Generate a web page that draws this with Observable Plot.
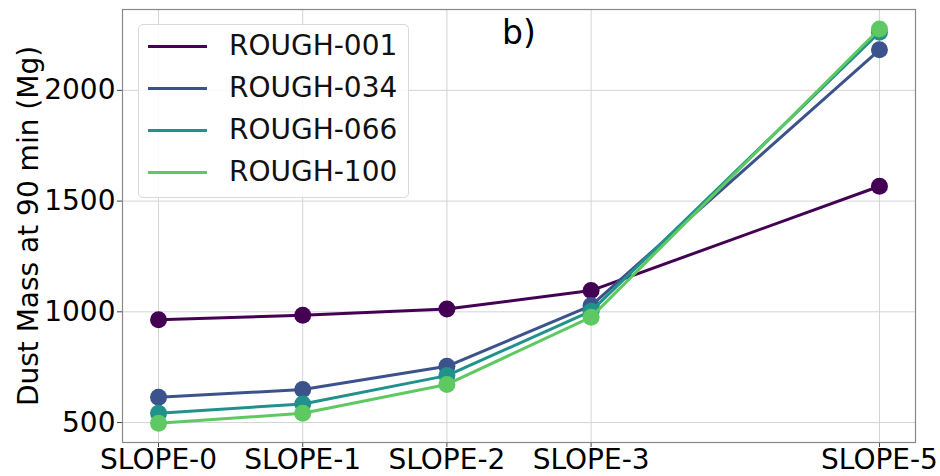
<!DOCTYPE html>
<html>
<head>
<meta charset="utf-8">
<script src="https://cdn.jsdelivr.net/npm/d3@7"></script>
<script src="https://cdn.jsdelivr.net/npm/@observablehq/plot@0.6"></script>
<style>
  body { margin: 0; background: #fff; font-family: "DejaVu Sans", sans-serif; }
  #wrap { position: relative; width: 940px; height: 476px; }
  #legend { position: absolute; left: 138px; top: 24px; width: 271px; height: 174px;
    border: 1px solid #d9d9d9; border-radius: 5px; background: rgba(255,255,255,0.85); box-sizing: border-box; }
  .row { position: absolute; left: 0; height: 30px; }
  .sw { position: absolute; left: 9px; width: 59px; height: 3px; }
  .lab { position: absolute; left: 90px; font-size: 28px; white-space: nowrap; color: #111; line-height: 30px; }
</style>
</head>
<body>
<div id="wrap"></div>
<script>
const slopeValues = [0, 1, 2, 3, 5];
const slopeLabels = ["SLOPE-0", "SLOPE-1", "SLOPE-2", "SLOPE-3", "SLOPE-5"];
const seriesNames = ["ROUGH-001", "ROUGH-034", "ROUGH-066", "ROUGH-100"];
const seriesColors = ["#440154", "#3b528b", "#21918c", "#5ec962"];
const rough001 = [964, 985, 1013, 1096, 1567];
const rough034 = [614, 649, 754, 1028, 2183];
const rough066 = [542, 584, 712, 1003, 2262];
const rough100 = [497, 542, 672, 976, 2277];
const yTicks = [500, 1000, 1500, 2000];
const yLabel = "Dust Mass at 90 min (Mg)";
const panelLabel = "b)";

const seriesValues = [rough001, rough034, rough066, rough100];
const data = [];
seriesNames.forEach((name, i) => {
  slopeValues.forEach((s, j) => data.push({series: name, slope: s, value: seriesValues[i][j]}));
});

const perSeries = [];
seriesNames.forEach(name => {
  const d = data.filter(r => r.series === name);
  perSeries.push(Plot.line(d, {x: "slope", y: "value", stroke: "series", strokeWidth: 3}));
  perSeries.push(Plot.dot(d, {x: "slope", y: "value", fill: "series", r: 8.5}));
});

const chart = Plot.plot({
  width: 940,
  height: 476,
  marginLeft: 122,
  marginRight: 25,
  marginTop: 9,
  marginBottom: 34,
  style: {fontFamily: "DejaVu Sans, sans-serif", fontSize: "28px", color: "#000", background: "#fff"},
  x: {domain: [-0.25, 5.25]},
  y: {domain: [410, 2365]},
  color: {domain: seriesNames, range: seriesColors},
  marks: [
    Plot.gridX(slopeValues, {stroke: "#d4d4d4", strokeOpacity: 1, strokeWidth: 1}),
    Plot.gridY(yTicks, {stroke: "#d4d4d4", strokeOpacity: 1, strokeWidth: 1}),
    Plot.axisX(slopeValues, {tickSize: 5, tickPadding: 2, fontSize: 28, stroke: "#444",
      tickFormat: v => slopeLabels[slopeValues.indexOf(v)], label: null}),
    Plot.axisY(yTicks, {tickSize: 5, tickPadding: 2, fontSize: 28, stroke: "#444", tickFormat: "d", label: null}),
    Plot.frame({stroke: "#888", strokeWidth: 1.2}),
    ...perSeries,
    Plot.text([panelLabel], {frameAnchor: "top", dy: 11, fontSize: 33, text: d => d, fill: "#000"}),
    Plot.text([yLabel], {frameAnchor: "left", textAnchor: "middle", dx: -93, rotate: -90, fontSize: 28, text: d => d, fill: "#000"})
  ]
});

const wrap = document.getElementById("wrap");
wrap.appendChild(chart);

const legend = document.createElement("div");
legend.id = "legend";
seriesNames.forEach((name, i) => {
  const row = document.createElement("div");
  row.className = "row";
  row.style.top = (6 + i * 42) + "px";
  row.style.width = "100%";
  const sw = document.createElement("div");
  sw.className = "sw";
  sw.style.background = seriesColors[i];
  sw.style.top = "14px";
  const lab = document.createElement("div");
  lab.className = "lab";
  lab.style.top = "0px";
  lab.textContent = name;
  row.appendChild(sw);
  row.appendChild(lab);
  legend.appendChild(row);
});
wrap.appendChild(legend);
</script>
</body>
</html>
